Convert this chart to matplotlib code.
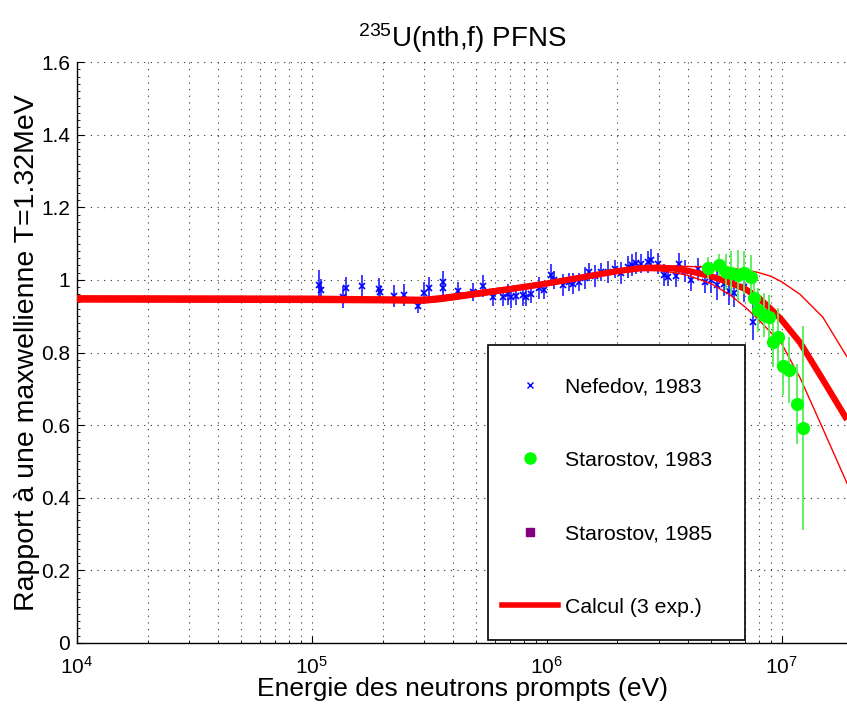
import numpy as np
import matplotlib
matplotlib.use('Agg')
import matplotlib.pyplot as plt
from matplotlib.ticker import LogLocator, AutoMinorLocator, NullFormatter, FixedLocator, FuncFormatter
from matplotlib.patches import Rectangle
from matplotlib.lines import Line2D

plt.rcParams['font.family'] = ['Liberation Sans', 'DejaVu Sans']
plt.rcParams['mathtext.default'] = 'regular'

# ---------------- data ----------------
nef_E = [1.07e5, 1.09e5, 1.36e5, 1.40e5, 1.63e5, 1.93e5, 1.95e5, 2.23e5, 2.46e5, 2.82e5,
         3.00e5, 3.15e5, 3.61e5, 3.63e5, 4.18e5, 4.84e5, 5.34e5, 5.89e5, 6.50e5, 6.83e5,
         7.03e5, 7.38e5, 7.91e5, 8.15e5, 8.55e5, 9.25e5, 9.71e5, 1.04e6, 1.07e6, 1.17e6,
         1.24e6, 1.30e6, 1.37e6, 1.45e6, 1.51e6, 1.60e6, 1.70e6, 1.82e6, 1.95e6, 2.07e6,
         2.21e6, 2.30e6, 2.39e6, 2.51e6, 2.69e6, 2.77e6, 2.97e6, 3.15e6, 3.30e6, 3.54e6,
         3.65e6, 3.90e6, 4.10e6, 4.40e6, 4.70e6, 5.00e6, 5.30e6, 5.70e6, 6.00e6, 6.30e6,
         6.90e6, 7.53e6]
nef_R = [0.986, 0.972, 0.953, 0.978, 0.983, 0.975, 0.967, 0.956, 0.958, 0.928,
         0.964, 0.978, 0.994, 0.978, 0.969, 0.967, 0.983, 0.953, 0.953, 0.960,
         0.953, 0.955, 0.958, 0.953, 0.960, 0.978, 0.972, 1.013, 1.000, 0.986,
         0.994, 0.990, 0.994, 1.005, 1.022, 1.010, 1.022, 1.022, 1.030, 1.019,
         1.035, 1.040, 1.047, 1.045, 1.049, 1.055, 1.045, 1.013, 1.008, 1.010,
         1.045, 1.025, 1.000, 1.030, 0.995, 1.000, 0.985, 0.990, 0.970, 0.965,
         0.980, 0.884]
nef_err = [0.040, 0.030, 0.030, 0.030, 0.030, 0.030, 0.020, 0.030, 0.030, 0.020,
           0.030, 0.030, 0.030, 0.020, 0.025, 0.025, 0.030, 0.025, 0.025, 0.030,
           0.030, 0.025, 0.030, 0.025, 0.025, 0.030, 0.025, 0.030, 0.025, 0.030,
           0.025, 0.030, 0.025, 0.030, 0.025, 0.030, 0.025, 0.030, 0.025, 0.030,
           0.030, 0.030, 0.030, 0.025, 0.030, 0.030, 0.030, 0.030, 0.025, 0.030,
           0.030, 0.030, 0.030, 0.030, 0.030, 0.035, 0.040, 0.035, 0.040, 0.040,
           0.040, 0.050]

sta83_E = [4.84e6, 5.40e6, 5.78e6, 6.07e6, 6.50e6, 6.89e6, 7.38e6, 7.60e6, 7.91e6,
           8.38e6, 8.81e6, 9.16e6, 9.62e6, 1.01e7, 1.08e7, 1.16e7, 1.23e7]
sta83_R = [1.033, 1.041, 1.022, 1.020, 1.013, 1.020, 1.008, 0.950, 0.917,
           0.903, 0.898, 0.829, 0.843, 0.763, 0.752, 0.658, 0.592]
sta83_err = [0.030, 0.030, 0.050, 0.060, 0.070, 0.060, 0.060, 0.050, 0.060,
             0.060, 0.060, 0.070, 0.080, 0.080, 0.090, 0.110, 0.280]

sta85_E = []
sta85_R = []

calc_E = [1e4, 1e5, 2e5, 3e5, 3.5e5, 4e5, 5e5, 7e5, 1e6, 1.5e6, 2e6, 2.5e6, 3e6,
          3.5e6, 4e6, 5e6, 6e6, 7e6, 8e6, 9e6, 1e7, 1.2e7, 1.5e7, 1.9e7]
calc_mid = [0.948, 0.947, 0.945, 0.944, 0.948, 0.953, 0.962, 0.975, 0.990, 1.010, 1.024,
            1.032, 1.034, 1.031, 1.025, 1.010, 0.993, 0.975, 0.950, 0.920, 0.890,
            0.827, 0.725, 0.615]
calc_hi = [0.956, 0.955, 0.953, 0.952, 0.956, 0.961, 0.969, 0.981, 0.995, 1.014, 1.028,
           1.036, 1.038, 1.038, 1.037, 1.035, 1.032, 1.028, 1.020, 1.010, 0.995,
           0.960, 0.897, 0.788]
calc_lo = [0.939, 0.938, 0.937, 0.936, 0.940, 0.945, 0.954, 0.968, 0.984, 1.005, 1.019,
           1.026, 1.025, 1.020, 1.012, 0.990, 0.960, 0.925, 0.890, 0.855, 0.825,
           0.730, 0.590, 0.440]

xlim = (1e4, 1.9e7)
ylim = (0, 1.6)

# ---------------- figure ----------------
fig = plt.figure(figsize=(8.47, 7.08), dpi=100)
ax = fig.add_axes([77/847, 65/708, 770/847, 581/708])
ax.set_xscale('log')
ax.set_xlim(*xlim)
ax.set_ylim(*ylim)

# data
ax.errorbar(nef_E, nef_R, yerr=nef_err, fmt='x', color='#0000ff', ecolor='#3030ff',
            elinewidth=1.3, markersize=5, markeredgewidth=1.2, capsize=0, zorder=3)
ax.plot(calc_E, calc_hi, color='#ff0000', lw=1.0, zorder=4)
ax.plot(calc_E, calc_lo, color='#ff0000', lw=1.0, zorder=4)
ax.plot(calc_E, calc_mid, color='#ff0000', lw=4.5, zorder=4, solid_capstyle='butt')
ax.errorbar(sta83_E, sta83_R, yerr=sta83_err, fmt='o', color='#00ff00', ecolor='#55ee55',
            elinewidth=1.3, markersize=8.5, capsize=0, zorder=5)
if len(sta85_E):
    ax.plot(sta85_E, sta85_R, 's', color='#800080', markersize=5, zorder=5)

# grid / ticks
ax.xaxis.set_major_locator(LogLocator(base=10, numticks=10))
ax.xaxis.set_minor_locator(LogLocator(base=10, subs=np.arange(2, 10), numticks=10))
ax.xaxis.set_minor_formatter(NullFormatter())
ax.yaxis.set_major_locator(FixedLocator(np.arange(0, 1.61, 0.2)))
ax.yaxis.set_major_formatter(FuncFormatter(lambda v, p: ('%g' % round(v, 2))))
ax.yaxis.set_minor_locator(AutoMinorLocator(10))
gstyle = dict(color='#303030', linestyle=(0, (1, 5)), linewidth=0.8)
ax.grid(True, which='major', axis='both', **gstyle)
ax.grid(True, which='minor', axis='x', **gstyle)
ax.tick_params(which='major', direction='in', length=5, width=0.8, labelsize=15,
               top=False, right=False)
ax.tick_params(which='minor', direction='in', length=2.5, width=0.6, top=False, right=False)
ax.tick_params(axis='x', pad=9)
ax.tick_params(axis='y', pad=5)
for s in ['top', 'right']:
    ax.spines[s].set_visible(False)
for s in ['left', 'bottom']:
    ax.spines[s].set_linewidth(1.0)

ax.set_title('$^{235}$U(nth,f) PFNS', fontsize=20, pad=11)
ax.set_xlabel('Energie des neutrons prompts (eV)', fontsize=19, labelpad=0)
ax.set_ylabel('Rapport à une maxwellienne T=1.32MeV', fontsize=20.5, labelpad=1)

# legend box
rect = Rectangle((0.534, 0.005), 0.334, 0.508, transform=ax.transAxes,
                 facecolor='white', edgecolor='black', linewidth=1.2, zorder=6,
                 clip_on=False)
ax.add_patch(rect)
handles = [Line2D([], [], ls='none', marker='x', color='#0000ff', markersize=5, mew=1.0),
           Line2D([], [], ls='none', marker='o', color='#00ff00', markersize=8),
           Line2D([], [], ls='none', marker='s', color='#800080', markersize=6),
           Line2D([], [], color='#ff0000', lw=4)]
labels = ['Nefedov, 1983', 'Starostov, 1983', 'Starostov, 1985', 'Calcul (3 exp.)']
leg = ax.legend(handles, labels, loc='center left', bbox_to_anchor=(0.552, 0.2513),
                frameon=False, fontsize=15.3, labelspacing=2.57, handlelength=2.65,
                handletextpad=0.3, borderpad=0, borderaxespad=0)
leg.set_zorder(7)

fig.savefig('out.png', dpi=100)
